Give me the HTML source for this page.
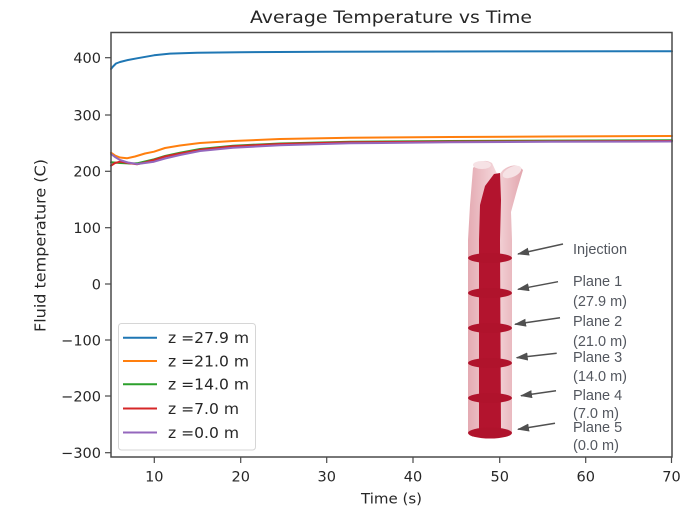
<!DOCTYPE html>
<html><head><meta charset="utf-8"><style>
html,body{margin:0;padding:0;background:#fff;}
svg{display:block;}
</style></head><body>
<svg width="686" height="517" viewBox="0 0 686 517" xmlns="http://www.w3.org/2000/svg">
<defs>
<linearGradient id="tube" x1="0" x2="1" y1="0" y2="0">
<stop offset="0" stop-color="#e4aab2"/>
<stop offset="0.5" stop-color="#f4d6da"/>
<stop offset="1" stop-color="#e2a6ae"/>
</linearGradient>
<marker id="ah" markerWidth="12" markerHeight="8" refX="11" refY="4" orient="auto" markerUnits="userSpaceOnUse">
<path d="M0,0 L12,4 L0,8 Z" fill="#505050"/>
</marker>
</defs>
<rect width="686" height="517" fill="#fff"/>
<text x="391" y="23" font-family="DejaVu Sans, sans-serif" font-size="17" fill="#262626" text-anchor="middle" textLength="282" lengthAdjust="spacingAndGlyphs">Average Temperature vs Time</text>

<!-- series -->
<g fill="none" stroke-width="2" stroke-linejoin="round" stroke-linecap="round">
<polyline stroke="#ff7f0e" points="111,152.7 115,155.5 120,157.5 127,158.3 135,156.5 145,153.5 154,151.7 165,148 180,145.5 200,143 233,141 280,139 350,137.7 450,137 550,136.5 672,136"/>
<polyline stroke="#2ca02c" points="111,162.3 120,163 130,163.5 137,163.3 145,161.5 154,159.3 165,156 180,152.7 200,149 233,145.7 280,143.5 350,141.7 450,141 550,140.6 672,140.3"/>
<polyline stroke="#d62728" points="111,165.7 115,163 120,161.7 128,163 137,164.3 145,162.5 154,160 165,156.5 180,153.5 200,149.8 233,146.3 280,144 350,142.3 450,141.6 672,141"/>
<polyline stroke="#9467bd" points="111,154 115,157 120,160 128,162.5 137,164 145,163 154,161.7 165,158.5 180,155 200,151 233,147.7 280,145.3 350,143.3 450,142.3 550,141.8 672,141.5"/>
<polyline stroke="#1f77b4" points="111,69 113,66.5 116,63.5 120,62 128,60 137,58.3 154,55.3 170,53.6 197,52.7 240,52.2 327,51.8 500,51.4 672,51.2"/>
</g>

<!-- diagram -->
<path d="M468,433 L468,240 L470,205 L473,168 Q482,157 492,163 L498,176 L503,170 Q515,161 523,170 L517,190 L511,212 L512,240 L512,433 Z" fill="url(#tube)"/>
<ellipse cx="482" cy="165" rx="9" ry="4" fill="#f6e2e5"/>
<ellipse cx="512" cy="172" rx="10" ry="5" transform="rotate(-25 512 172)" fill="#f6e2e5"/>
<path d="M479,433 L479,240 L480,205 L485,186 L494,174 L500,173 L501,200 L500,240 L501,433 Z" fill="#b3142e"/>
<g fill="#b0132c">
<ellipse cx="490" cy="258" rx="22" ry="5"/>
<ellipse cx="490" cy="293" rx="22" ry="5"/>
<ellipse cx="490" cy="328" rx="22" ry="5"/>
<ellipse cx="490" cy="363" rx="22" ry="5"/>
<ellipse cx="490" cy="398" rx="22" ry="5"/>
<ellipse cx="490" cy="433" rx="22" ry="5.5"/>
</g>

<!-- arrows -->
<g stroke="#505050" stroke-width="1.5" fill="none">
<line x1="563" y1="244" x2="518" y2="254" marker-end="url(#ah)"/>
<line x1="558" y1="281.7" x2="518" y2="289.3" marker-end="url(#ah)"/>
<line x1="560" y1="317.7" x2="515" y2="324.3" marker-end="url(#ah)"/>
<line x1="556.7" y1="353.3" x2="516.7" y2="357.7" marker-end="url(#ah)"/>
<line x1="556" y1="390.7" x2="521" y2="395.7" marker-end="url(#ah)"/>
<line x1="555" y1="423.3" x2="518" y2="429.3" marker-end="url(#ah)"/>
</g>
<g font-family="Liberation Sans, Arial, sans-serif" font-size="14.5" fill="#53575f">
<text x="573" y="254">Injection</text>
<text x="573" y="286">Plane 1</text>
<text x="573" y="306">(27.9 m)</text>
<text x="573" y="326">Plane 2</text>
<text x="573" y="346">(21.0 m)</text>
<text x="573" y="362">Plane 3</text>
<text x="573" y="381">(14.0 m)</text>
<text x="573" y="400">Plane 4</text>
<text x="573" y="418">(7.0 m)</text>
<text x="573" y="432">Plane 5</text>
<text x="573" y="450">(0.0 m)</text>
</g>

<!-- legend -->
<rect x="118.5" y="323.5" width="137" height="126.5" rx="3" fill="#fff" fill-opacity="0.85" stroke="#d6d6d6" stroke-width="1"/>
<g stroke-width="2">
<line x1="123" y1="337.7" x2="157" y2="337.7" stroke="#1f77b4"/>
<line x1="123" y1="361" x2="157" y2="361" stroke="#ff7f0e"/>
<line x1="123" y1="384.3" x2="157" y2="384.3" stroke="#2ca02c"/>
<line x1="123" y1="408.5" x2="157" y2="408.5" stroke="#d62728"/>
<line x1="123" y1="432.5" x2="157" y2="432.5" stroke="#9467bd"/>
</g>
<g font-family="DejaVu Sans, sans-serif" font-size="15" fill="#262626">
<text x="168" y="343" textLength="81" lengthAdjust="spacingAndGlyphs">z =27.9 m</text>
<text x="168" y="366.3" textLength="81" lengthAdjust="spacingAndGlyphs">z =21.0 m</text>
<text x="168" y="389.6" textLength="81" lengthAdjust="spacingAndGlyphs">z =14.0 m</text>
<text x="168" y="413.8" textLength="71" lengthAdjust="spacingAndGlyphs">z =7.0 m</text>
<text x="168" y="437.8" textLength="71" lengthAdjust="spacingAndGlyphs">z =0.0 m</text>
</g>

<!-- frame -->
<rect x="111" y="32.5" width="561" height="424.5" fill="none" stroke="#4a4a4a" stroke-width="1.5"/>

<!-- ticks -->
<g stroke="#4a4a4a" stroke-width="1.2">
<line x1="105" y1="57.7" x2="111" y2="57.7"/>
<line x1="105" y1="115" x2="111" y2="115"/>
<line x1="105" y1="171.3" x2="111" y2="171.3"/>
<line x1="105" y1="227.7" x2="111" y2="227.7"/>
<line x1="105" y1="284" x2="111" y2="284"/>
<line x1="105" y1="340" x2="111" y2="340"/>
<line x1="105" y1="396" x2="111" y2="396"/>
<line x1="105" y1="452.7" x2="111" y2="452.7"/>
<line x1="154.3" y1="457" x2="154.3" y2="463"/>
<line x1="240.7" y1="457" x2="240.7" y2="463"/>
<line x1="326.7" y1="457" x2="326.7" y2="463"/>
<line x1="413" y1="457" x2="413" y2="463"/>
<line x1="499.7" y1="457" x2="499.7" y2="463"/>
<line x1="585.7" y1="457" x2="585.7" y2="463"/>
<line x1="671.5" y1="457" x2="671.5" y2="463"/>
</g>
<g font-family="DejaVu Sans, sans-serif" font-size="14.5" fill="#262626" text-anchor="end">
<text x="101" y="63">400</text>
<text x="101" y="120.3">300</text>
<text x="101" y="176.6">200</text>
<text x="101" y="233">100</text>
<text x="101" y="289.3">0</text>
<text x="101" y="345.3">−100</text>
<text x="101" y="401.3">−200</text>
<text x="101" y="458">−300</text>
</g>
<g font-family="DejaVu Sans, sans-serif" font-size="14.5" fill="#262626" text-anchor="middle">
<text x="154.3" y="481.5">10</text>
<text x="240.7" y="481.5">20</text>
<text x="326.7" y="481.5">30</text>
<text x="413" y="481.5">40</text>
<text x="499.7" y="481.5">50</text>
<text x="585.7" y="481.5">60</text>
<text x="671.5" y="481.5">70</text>
<text x="391.5" y="503.5" textLength="61" lengthAdjust="spacingAndGlyphs">Time (s)</text>
</g>
<text transform="translate(45.5 245.5) rotate(-90)" font-family="DejaVu Sans, sans-serif" font-size="15" fill="#262626" text-anchor="middle" textLength="173" lengthAdjust="spacingAndGlyphs">Fluid temperature (C)</text>
</svg>
</body></html>
